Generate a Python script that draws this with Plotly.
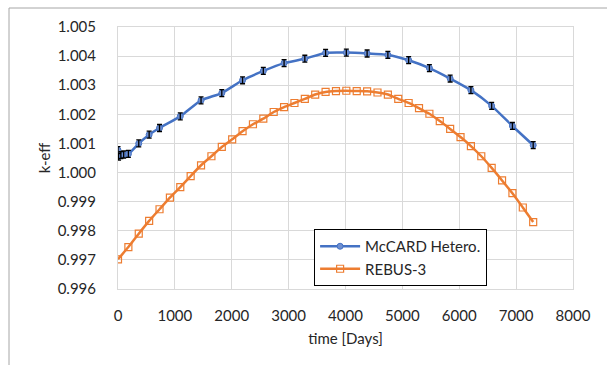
import plotly.graph_objects as go

# McCARD Hetero. (blue) data
mc_time = [0, 10, 50, 100, 182.5, 365, 547.5, 730, 1095, 1460, 1825, 2190, 2555, 2920,
           3285, 3650, 4015, 4380, 4745, 5110, 5475, 5840, 6205, 6570, 6935, 7300]
mc_keff = [1.00077, 1.00055, 1.00060, 1.00062, 1.00064, 1.00100, 1.00130, 1.00153, 1.00193,
           1.00248, 1.00273, 1.00317, 1.00349, 1.00376, 1.00391, 1.00411, 1.00412, 1.00409,
           1.00404, 1.00386, 1.00359, 1.00323, 1.00283, 1.00229, 1.00160, 1.00094]
mc_err = [0.00012] * len(mc_time)

# REBUS-3 (orange) data
rb_time = [i * 182.5 for i in range(41)]
rb_keff = [0.99702, 0.99744, 0.99790, 0.99834, 0.99874, 0.99914, 0.99950, 0.99988, 1.00025,
           1.00056, 1.00088, 1.00114, 1.00142, 1.00166, 1.00185, 1.00208, 1.00225, 1.00239,
           1.00253, 1.00268, 1.00277, 1.00280, 1.00281, 1.00280, 1.00279, 1.00275, 1.00268,
           1.00253, 1.00239, 1.00221, 1.00202, 1.00177, 1.00150, 1.00122, 1.00091, 1.00056,
           1.00016, 0.99973, 0.99929, 0.99880, 0.99830]

x_ticks = [0, 1000, 2000, 3000, 4000, 5000, 6000, 7000, 8000]
y_ticks = [0.996, 0.997, 0.998, 0.999, 1.000, 1.001, 1.002, 1.003, 1.004, 1.005]

FONT = "Lato, 'Open Sans', sans-serif"
BLUE = "#4472C4"
ORANGE = "#ED7D31"
TXT = "#262626"

fig = go.Figure()
fig.add_trace(go.Scatter(
    x=mc_time, y=mc_keff, name="McCARD Hetero.",
    mode="lines+markers",
    line=dict(color=BLUE, width=2.5, shape="spline", smoothing=0.5),
    marker=dict(symbol="circle", size=6, color="#6f8fd0", line=dict(color=BLUE, width=1)),
))
# error bars drawn on top of the markers
fig.add_trace(go.Scatter(
    x=mc_time, y=mc_keff, name="McCARD error", showlegend=False, hoverinfo="skip",
    mode="markers", marker=dict(size=1, opacity=0),
    error_y=dict(type="data", array=mc_err, visible=True, color="black", thickness=1.3, width=2.5),
))
fig.add_trace(go.Scatter(
    x=rb_time, y=rb_keff, name="REBUS-3",
    mode="lines+markers",
    line=dict(color=ORANGE, width=2.5, shape="spline", smoothing=0.5),
    marker=dict(symbol="square-open", size=7, color=ORANGE, line=dict(color=ORANGE, width=1.2)),
))

L, R, T, B = 118, 34, 27, 76
fig.update_layout(
    width=607, height=365,
    margin=dict(l=L, r=R, t=T, b=B, pad=0),
    paper_bgcolor="white", plot_bgcolor="white",
    font=dict(family=FONT, size=15, color=TXT),
    showlegend=True,
    legend=dict(x=0.431, y=0.229, xanchor="left", yanchor="top",
                bordercolor="black", borderwidth=1, bgcolor="white",
                font=dict(family=FONT, size=15, color=TXT),
                tracegroupgap=0, itemwidth=40),
    xaxis=dict(range=[0, 8000], tickvals=x_ticks, ticktext=[str(v) for v in x_ticks],
               showgrid=True, gridcolor="#d9d9d9", gridwidth=1,
               showline=True, linecolor="#d9d9d9", linewidth=1, mirror=True,
               zeroline=False, ticks="outside", ticklen=13, tickcolor="rgba(0,0,0,0)",
               automargin=False,
               title=dict(text="time [Days]", font=dict(family=FONT, size=15, color=TXT), standoff=10)),
    yaxis=dict(range=[0.996, 1.005], tickvals=y_ticks, ticktext=[f"{v:.3f}" for v in y_ticks],
               showgrid=True, gridcolor="#d9d9d9", gridwidth=1,
               showline=True, linecolor="#d9d9d9", linewidth=1, mirror=True,
               zeroline=False, ticks="outside", ticklen=18, tickcolor="rgba(0,0,0,0)",
               automargin=False,
               title=dict(text="k-eff", font=dict(family=FONT, size=15, color=TXT), standoff=3)),
)

pw = 607 - L - R
ph = 365 - T - B
fig.add_shape(type="rect", xref="paper", yref="paper",
              x0=(9 - L) / pw, x1=(700 - L) / pw,
              y0=1 - (500 - T) / ph, y1=1 + (T - 8) / ph,
              line=dict(color="#a6a6a6", width=1), fillcolor="rgba(0,0,0,0)", layer="below")

fig.write_html("out.html", config={"displayModeBar": False},
               post_script="document.body.style.margin='0';document.body.style.overflow='hidden';")
